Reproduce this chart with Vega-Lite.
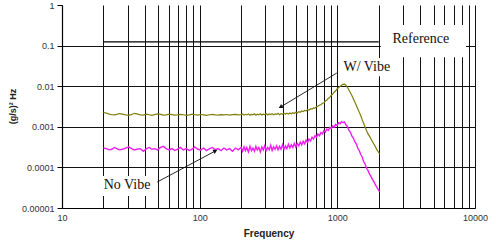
{
  "$schema": "https://vega.github.io/schema/vega-lite/v6.json",
  "width": 413,
  "height": 203,
  "autosize": "none",
  "padding": {"left": 62, "top": 5, "right": 25, "bottom": 33},
  "background": "white",
  "config": {
    "view": {"stroke": null},
    "axis": {"labelFont": "Liberation Sans", "titleFont": "Liberation Sans", "labelColor": "#333", "titleColor": "#222", "domainColor": "#000", "tickColor": "#000", "gridColor": "#111", "gridWidth": 1}
  },
  "datasets": {
    "wvibe": [
      {"f":20,"v":0.00225},{"f":21,"v":0.00218},{"f":22,"v":0.00205},{"f":23,"v":0.00198},{"f":24,"v":0.00196},{"f":25,"v":0.00203},{"f":26,"v":0.00212},{"f":27.5,"v":0.00205},{"f":29,"v":0.00196},{"f":30.5,"v":0.00193},{"f":32,"v":0.00199},{"f":33.5,"v":0.00215},{"f":35,"v":0.00208},{"f":37,"v":0.00197},{"f":39,"v":0.00195},{"f":41,"v":0.00204},{"f":43,"v":0.00198},{"f":45,"v":0.00192},{"f":47,"v":0.00199},{"f":49.5,"v":0.00207},{"f":52,"v":0.00202},{"f":54.5,"v":0.00194},{"f":57,"v":0.00197},{"f":60,"v":0.00205},{"f":63,"v":0.00199},{"f":66,"v":0.00193},{"f":69,"v":0.00196},{"f":72.5,"v":0.00203},{"f":76,"v":0.00198},{"f":80,"v":0.00192},{"f":84,"v":0.00197},{"f":88,"v":0.00204},{"f":92,"v":0.00199},{"f":97,"v":0.00195},{"f":102,"v":0.00201},{"f":107,"v":0.00196},{"f":112,"v":0.00192},{"f":118,"v":0.00198},{"f":124,"v":0.00203},{"f":130,"v":0.00197},{"f":136,"v":0.00194},{"f":143,"v":0.00199},{"f":150,"v":0.00196},{"f":157,"v":0.00201},{"f":165,"v":0.00195},{"f":173,"v":0.00199},{"f":182,"v":0.00203},{"f":191,"v":0.00196},{"f":200,"v":0.00199},
      {"f":205,"v":0.00206},{"f":210,"v":0.00194},{"f":215,"v":0.00203},{"f":220,"v":0.00196},{"f":226,"v":0.00208},{"f":232,"v":0.00192},{"f":238,"v":0.00201},{"f":244,"v":0.00197},{"f":250,"v":0.00209},{"f":256,"v":0.00193},{"f":262,"v":0.00204},{"f":269,"v":0.00198},{"f":276,"v":0.0021},{"f":283,"v":0.00195},{"f":290,"v":0.00205},{"f":297,"v":0.00199},{"f":304,"v":0.00212},{"f":312,"v":0.00196},{"f":320,"v":0.00207},{"f":328,"v":0.002},{"f":336,"v":0.00211},{"f":344,"v":0.00197},{"f":353,"v":0.00208},{"f":362,"v":0.00202},{"f":371,"v":0.00214},{"f":380,"v":0.00199},{"f":390,"v":0.0021},{"f":400,"v":0.00204},{"f":410,"v":0.00217},{"f":420,"v":0.00203},{"f":430,"v":0.00215},{"f":441,"v":0.00207},{"f":452,"v":0.0022},{"f":463,"v":0.00209},{"f":475,"v":0.00223},{"f":487,"v":0.00213},{"f":499,"v":0.00228},{"f":512,"v":0.00219},{"f":525,"v":0.00236},{"f":538,"v":0.00228},{"f":551,"v":0.00245},{"f":565,"v":0.00236},{"f":579,"v":0.00254},{"f":593,"v":0.00246},{"f":608,"v":0.00265},{"f":623,"v":0.00258},{"f":639,"v":0.00278},{"f":655,"v":0.00272},{"f":671,"v":0.00292},{"f":688,"v":0.00288},{"f":705,"v":0.0031},{"f":723,"v":0.0032},{"f":741,"v":0.0034},{"f":760,"v":0.0035},{"f":779,"v":0.0038},{"f":798,"v":0.0039},{"f":818,"v":0.0043},{"f":838,"v":0.0045},{"f":859,"v":0.005},{"f":881,"v":0.0053},{"f":903,"v":0.0059},{"f":925,"v":0.0064},{"f":948,"v":0.0071},{"f":972,"v":0.0077},{"f":996,"v":0.0086},{"f":1020,"v":0.0092},{"f":1046,"v":0.0099},{"f":1072,"v":0.0105},{"f":1099,"v":0.0111},{"f":1126,"v":0.0113},{"f":1155,"v":0.0106},{"f":1184,"v":0.0094},{"f":1213,"v":0.0081},{"f":1244,"v":0.0069},{"f":1275,"v":0.0059},{"f":1307,"v":0.0049},{"f":1339,"v":0.0041},{"f":1373,"v":0.0034},{"f":1407,"v":0.0028},{"f":1442,"v":0.0023},{"f":1478,"v":0.0019},{"f":1515,"v":0.0015},{"f":1553,"v":0.00122},{"f":1592,"v":0.00098},{"f":1632,"v":0.0008},{"f":1672,"v":0.00067},{"f":1714,"v":0.00058},{"f":1757,"v":0.0005},{"f":1801,"v":0.00043},{"f":1846,"v":0.00037},{"f":1892,"v":0.00032},{"f":1940,"v":0.00027},{"f":1988,"v":0.00024},{"f":2030,"v":0.00021}
    ],
    "novibe": [
      {"f":20,"v":0.0003},{"f":21,"v":0.00029},{"f":22,"v":0.00027},{"f":23,"v":0.00028},{"f":24,"v":0.00031},{"f":25,"v":0.00029},{"f":26,"v":0.00027},{"f":27.5,"v":0.00028},{"f":29,"v":0.0003},{"f":30.5,"v":0.00032},{"f":32,"v":0.00029},{"f":33.5,"v":0.00027},{"f":35,"v":0.00028},{"f":37,"v":0.00029},{"f":39,"v":0.00025},{"f":41,"v":0.00029},{"f":43,"v":0.00031},{"f":45,"v":0.00028},{"f":47,"v":0.00029},{"f":49.5,"v":0.00027},{"f":52,"v":0.00031},{"f":54.5,"v":0.00033},{"f":57,"v":0.00029},{"f":60,"v":0.00027},{"f":63,"v":0.00029},{"f":66,"v":0.00026},{"f":69,"v":0.00028},{"f":72.5,"v":0.00031},{"f":76,"v":0.00027},{"f":80,"v":0.00029},{"f":84,"v":0.00026},{"f":88,"v":0.00028},{"f":92,"v":0.00032},{"f":97,"v":0.00028},{"f":102,"v":0.00027},{"f":107,"v":0.0003},{"f":112,"v":0.00026},{"f":118,"v":0.00029},{"f":124,"v":0.00031},{"f":130,"v":0.00027},{"f":136,"v":0.00029},{"f":143,"v":0.00026},{"f":150,"v":0.0003},{"f":157,"v":0.00027},{"f":165,"v":0.00029},{"f":173,"v":0.00025},{"f":182,"v":0.0003},{"f":191,"v":0.00027},{"f":200,"v":0.00031},
      {"f":205,"v":0.00025},{"f":210,"v":0.00032},{"f":215,"v":0.00026},{"f":220,"v":0.00031},{"f":226,"v":0.00024},{"f":232,"v":0.00033},{"f":238,"v":0.00026},{"f":244,"v":0.0003},{"f":250,"v":0.00025},{"f":256,"v":0.00033},{"f":262,"v":0.00027},{"f":269,"v":0.00031},{"f":276,"v":0.00024},{"f":283,"v":0.00032},{"f":290,"v":0.00027},{"f":297,"v":0.00034},{"f":304,"v":0.00026},{"f":312,"v":0.00031},{"f":320,"v":0.00027},{"f":328,"v":0.00035},{"f":336,"v":0.00026},{"f":344,"v":0.00032},{"f":353,"v":0.00028},{"f":362,"v":0.00034},{"f":371,"v":0.00027},{"f":380,"v":0.00033},{"f":390,"v":0.00028},{"f":400,"v":0.00036},{"f":410,"v":0.00028},{"f":420,"v":0.00034},{"f":430,"v":0.00029},{"f":441,"v":0.00037},{"f":452,"v":0.0003},{"f":463,"v":0.00036},{"f":475,"v":0.00031},{"f":487,"v":0.00039},{"f":499,"v":0.00032},{"f":512,"v":0.00039},{"f":525,"v":0.00034},{"f":538,"v":0.00042},{"f":551,"v":0.00036},{"f":565,"v":0.00044},{"f":579,"v":0.00038},{"f":593,"v":0.00047},{"f":608,"v":0.00041},{"f":623,"v":0.0005},{"f":639,"v":0.00045},{"f":655,"v":0.00055},{"f":671,"v":0.0005},{"f":688,"v":0.0006},{"f":705,"v":0.00055},{"f":723,"v":0.00066},{"f":741,"v":0.0006},{"f":760,"v":0.00072},{"f":779,"v":0.00067},{"f":798,"v":0.0008},{"f":818,"v":0.00074},{"f":838,"v":0.00088},{"f":859,"v":0.00082},{"f":881,"v":0.00096},{"f":903,"v":0.0009},{"f":925,"v":0.00105},{"f":948,"v":0.00098},{"f":972,"v":0.00115},{"f":996,"v":0.00108},{"f":1020,"v":0.00125},{"f":1046,"v":0.00118},{"f":1072,"v":0.00134},{"f":1099,"v":0.00126},{"f":1126,"v":0.00132},{"f":1155,"v":0.00112},{"f":1184,"v":0.00101},{"f":1213,"v":0.00083},{"f":1244,"v":0.00074},{"f":1275,"v":0.0006},{"f":1307,"v":0.00053},{"f":1339,"v":0.00043},{"f":1373,"v":0.00038},{"f":1407,"v":0.0003},{"f":1442,"v":0.00026},{"f":1478,"v":0.00021},{"f":1515,"v":0.00018},{"f":1553,"v":0.00014},{"f":1592,"v":0.00012},{"f":1632,"v":0.000095},{"f":1672,"v":0.000083},{"f":1714,"v":0.000068},{"f":1757,"v":0.00006},{"f":1801,"v":0.00005},{"f":1846,"v":0.000044},{"f":1892,"v":0.000037},{"f":1940,"v":0.000032},{"f":1988,"v":0.000028},{"f":2030,"v":0.000025}
    ],
    "reference": [{"f":20,"f2":2000,"v":0.123}],
    "boxes": [
      {"f":2070,"f2":8610,"v":0.052,"v2":0.32},
      {"f":1060,"f2":2620,"v":0.0177,"v2":0.0496},
      {"f":18.9,"f2":47.5,"v":0.0000198,"v2":0.000061}
    ],
    "labels": [
      {"f":4045,"v":0.146,"t":"Reference"},
      {"f":1637,"v":0.0297,"t":"W/ Vibe"},
      {"f":29.7,"v":0.0000369,"t":"No Vibe"}
    ],
    "arrows": [
      {"name":"W/ Vibe","f":991,"v":0.0211,"f2":387,"v2":0.00307},
      {"name":"No Vibe","f":49.2,"v":0.0000437,"f2":130,"v2":0.000254}
    ]
  },
  "encoding": {
    "x": {"field": "f", "type": "quantitative", "scale": {"type": "log", "domain": [10, 10000], "nice": false},
      "axis": {"title": "Frequency", "titleFontSize": 10, "titleFontWeight": "bold", "titleY": 25, "titleBaseline": "middle",
        "values": [10,20,30,40,50,60,70,80,90,100,200,300,400,500,600,700,800,900,1000,2000,3000,4000,5000,6000,7000,8000,9000,10000],
        "labelExpr": "(datum.value == 10 || datum.value == 100 || datum.value == 1000 || datum.value == 10000) ? format(datum.value, 'd') : ''",
        "labelFontSize": 9, "labelPadding": 5, "ticks": false, "domainWidth": 1.2, "grid": true, "labelFlush": false, "labelOverlap": false}},
    "y": {"field": "v", "type": "quantitative", "scale": {"type": "log", "domain": [0.00001, 1], "nice": false},
      "axis": {"title": "(g/s)² Hz", "titleFontSize": 9, "titleFontWeight": "bold", "titleX": -50, "titleY": 101, "titleAngle": -90, "titleAlign": "center", "titleBaseline": "middle",
        "values": [0.00001, 0.0001, 0.001, 0.01, 0.1, 1],
        "labelExpr": "format(datum.value, '.5~f')", "labelFontSize": 9, "labelPadding": 3, "tickSize": 5, "domainWidth": 1.2,
        "grid": true, "gridOpacity": {"condition": {"test": "datum.value >= 1", "value": 0}, "value": 1}, "labelOverlap": false}}
  },
  "layer": [
    {
      "data": {"name": "wvibe"},
      "mark": {"type": "line", "color": "#7f7f0a", "strokeWidth": 1.2}
    },
    {
      "data": {"name": "novibe"},
      "mark": {"type": "line", "color": "#f01cf0", "strokeWidth": 1.4}
    },
    {
      "data": {"name": "reference"},
      "mark": {"type": "rule", "color": "#000", "strokeWidth": 1.3},
      "encoding": {"x2": {"field": "f2"}}
    },
    {
      "data": {"name": "boxes"},
      "mark": {"type": "rect", "fill": "white", "stroke": null},
      "encoding": {"x2": {"field": "f2"}, "y2": {"field": "v2"}}
    },
    {
      "data": {"name": "labels"},
      "mark": {"type": "text", "font": "Liberation Serif", "fontSize": 14, "color": "#111", "align": "center", "baseline": "middle"},
      "encoding": {"text": {"field": "t"}}
    },
    {
      "data": {"name": "arrows"},
      "mark": {"type": "rule", "color": "#111", "strokeWidth": 0.9},
      "encoding": {"x2": {"field": "f2"}, "y2": {"field": "v2"}}
    },
    {
      "data": {"name": "arrows"},
      "transform": [{"filter": "datum.name == 'W/ Vibe'"}],
      "mark": {"type": "point", "shape": "triangle-up", "filled": true, "color": "#111", "size": 22, "angle": 239, "opacity": 1},
      "encoding": {"x": {"field": "f2", "type": "quantitative"}, "y": {"field": "v2", "type": "quantitative"}}
    },
    {
      "data": {"name": "arrows"},
      "transform": [{"filter": "datum.name == 'No Vibe'"}],
      "mark": {"type": "point", "shape": "triangle-up", "filled": true, "color": "#111", "size": 22, "angle": 62, "opacity": 1},
      "encoding": {"x": {"field": "f2", "type": "quantitative"}, "y": {"field": "v2", "type": "quantitative"}}
    }
  ]
}
